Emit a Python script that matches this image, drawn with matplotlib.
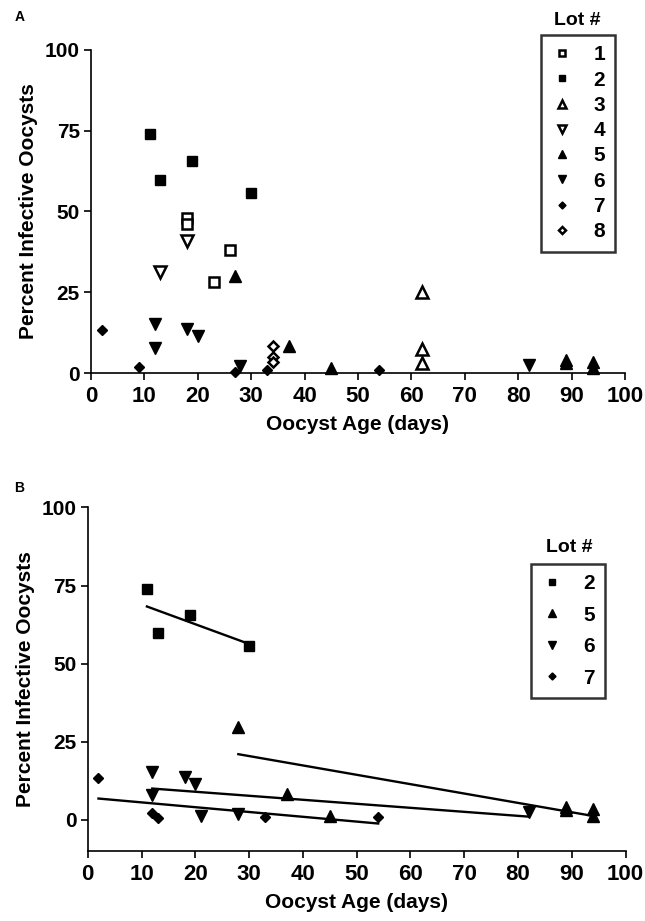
import matplotlib
matplotlib.use("Agg")
import matplotlib.pyplot as plt

plt.rcParams['font.family'] = ['Liberation Sans', 'DejaVu Sans']
plt.rcParams['font.weight'] = 'bold'

# panel A data (oocyst age in days, percent infective)
lot1_x = [18, 18, 26, 23]
lot1_y = [47.9, 46.1, 38.1, 28.3]
lot2_x = [11, 13, 19, 30]
lot2_y = [73.8, 59.7, 65.6, 55.8]
lot3_x = [62, 62, 62]
lot3_y = [25.2, 7.4, 3.1]
lot4_x = [18, 13]
lot4_y = [40.7, 31.1]
lot5_x = [27, 37, 45, 89, 89, 94, 94]
lot5_y = [29.9, 8.2, 1.5, 4.1, 3.1, 3.5, 1.5]
lot6_x = [12, 12, 18, 20, 28, 82]
lot6_y = [15.1, 7.7, 13.7, 11.5, 2.3, 2.6]
lot7_x = [2, 9, 27, 33, 54]
lot7_y = [13.4, 1.9, 0.2, 0.8, 1.0]
lot8_x = [34, 34, 34]
lot8_y = [8.5, 4.8, 3.4]

# panel B data
b2_x = [11, 13, 19, 30]
b2_y = [73.8, 59.7, 65.6, 55.8]
b5_x = [28, 37, 45, 89, 89, 94, 94]
b5_y = [29.8, 8.2, 1.3, 4.1, 3.1, 3.5, 1.2]
b6_x = [12, 12, 18, 20, 21, 28, 82]
b6_y = [15.3, 8.0, 13.8, 11.5, 1.3, 2.0, 2.6]
b7_x = [2, 12, 13, 33, 54]
b7_y = [13.3, 2.1, 0.5, 1.0, 1.0]

# regression lines (start / end)
fit2_x, fit2_y = [11, 30], [68.3, 56.3]
fit5_x, fit5_y = [28, 94], [21.0, 1.2]
fit6_x, fit6_y = [12, 82], [10.0, 1.0]
fit7_x, fit7_y = [2, 54], [6.8, -1.2]

xticks = [0, 10, 20, 30, 40, 50, 60, 70, 80, 90, 100]
yticks = [0, 25, 50, 75, 100]

styles = {
    '1': dict(marker='s', mfc='white', mec='black', ms=7.5, mew=1.8),
    '2': dict(marker='s', mfc='black', mec='black', ms=7.5, mew=1.0),
    '3': dict(marker='^', mfc='white', mec='black', ms=8, mew=1.8),
    '4': dict(marker='v', mfc='white', mec='black', ms=8, mew=1.8),
    '5': dict(marker='^', mfc='black', mec='black', ms=8, mew=1.0),
    '6': dict(marker='v', mfc='black', mec='black', ms=8, mew=1.0),
    '7': dict(marker='D', mfc='black', mec='black', ms=5.5, mew=1.0),
    '8': dict(marker='D', mfc='white', mec='black', ms=5.5, mew=1.8),
}


def style_axes(ax, ylim):
    ax.set_xlim(0, 100)
    ax.set_ylim(*ylim)
    ax.set_xticks(xticks)
    ax.set_yticks(yticks)
    ax.spines['top'].set_visible(False)
    ax.spines['right'].set_visible(False)
    ax.spines['left'].set_linewidth(1.2)
    ax.spines['bottom'].set_linewidth(1.2)
    ax.tick_params(direction='out', length=5, width=1.2, pad=3)
    ax.tick_params(axis='x', labelsize=16, pad=4)
    ax.tick_params(axis='y', labelsize=15)
    for lab in ax.get_xticklabels() + ax.get_yticklabels():
        lab.set_fontweight('bold')
    ax.set_xlabel('Oocyst Age (days)', fontsize=15, fontweight='bold', labelpad=6)
    ax.set_ylabel('Percent Infective Oocysts', fontsize=15, fontweight='bold', labelpad=5)


def make_legend(ax, left, top, spacing):
    leg = ax.legend(loc='upper left', bbox_to_anchor=(left, top), bbox_transform=fig.transFigure,
                    borderaxespad=0, frameon=True, fancybox=False, edgecolor='black',
                    markerscale=0.65, handlelength=1.0, handletextpad=1.0,
                    labelspacing=spacing, borderpad=0.5,
                    prop={'size': 15, 'weight': 'bold'})
    leg.get_frame().set_linewidth(1.8)
    return leg


fig = plt.figure(figsize=(6.45, 9.21), dpi=100)
axA = fig.add_axes([0.141, 0.595, 0.828, 0.351])
axB = fig.add_axes([0.136, 0.076, 0.834, 0.373])

series_a = [('1', lot1_x, lot1_y), ('2', lot2_x, lot2_y), ('3', lot3_x, lot3_y),
            ('4', lot4_x, lot4_y), ('5', lot5_x, lot5_y), ('6', lot6_x, lot6_y),
            ('7', lot7_x, lot7_y), ('8', lot8_x, lot8_y)]
for name, xs, ys in series_a:
    axA.plot(xs, ys, linestyle='none', label=name, clip_on=False, zorder=3, **styles[name])
style_axes(axA, (0, 100))
make_legend(axA, 0.839, 0.962, 0.3)
fig.text(0.895, 0.978, 'Lot #', ha='center', va='center', fontsize=14, fontweight='bold')
fig.text(0.022, 0.981, 'A', fontsize=10, fontweight='bold', ha='left', va='center')

series_b = [('2', b2_x, b2_y, fit2_x, fit2_y), ('5', b5_x, b5_y, fit5_x, fit5_y),
            ('6', b6_x, b6_y, fit6_x, fit6_y), ('7', b7_x, b7_y, fit7_x, fit7_y)]
for name, xs, ys, fx, fy in series_b:
    axB.plot(xs, ys, linestyle='none', label=name, clip_on=False, zorder=3, **styles[name])
    axB.plot(fx, fy, color='black', linewidth=1.7, zorder=2)
style_axes(axB, (-10, 100))
make_legend(axB, 0.823, 0.388, 0.6)
fig.text(0.882, 0.405, 'Lot #', ha='center', va='center', fontsize=14, fontweight='bold')
fig.text(0.022, 0.47, 'B', fontsize=10, fontweight='bold', ha='left', va='center')

fig.savefig('out.png', dpi=100)
